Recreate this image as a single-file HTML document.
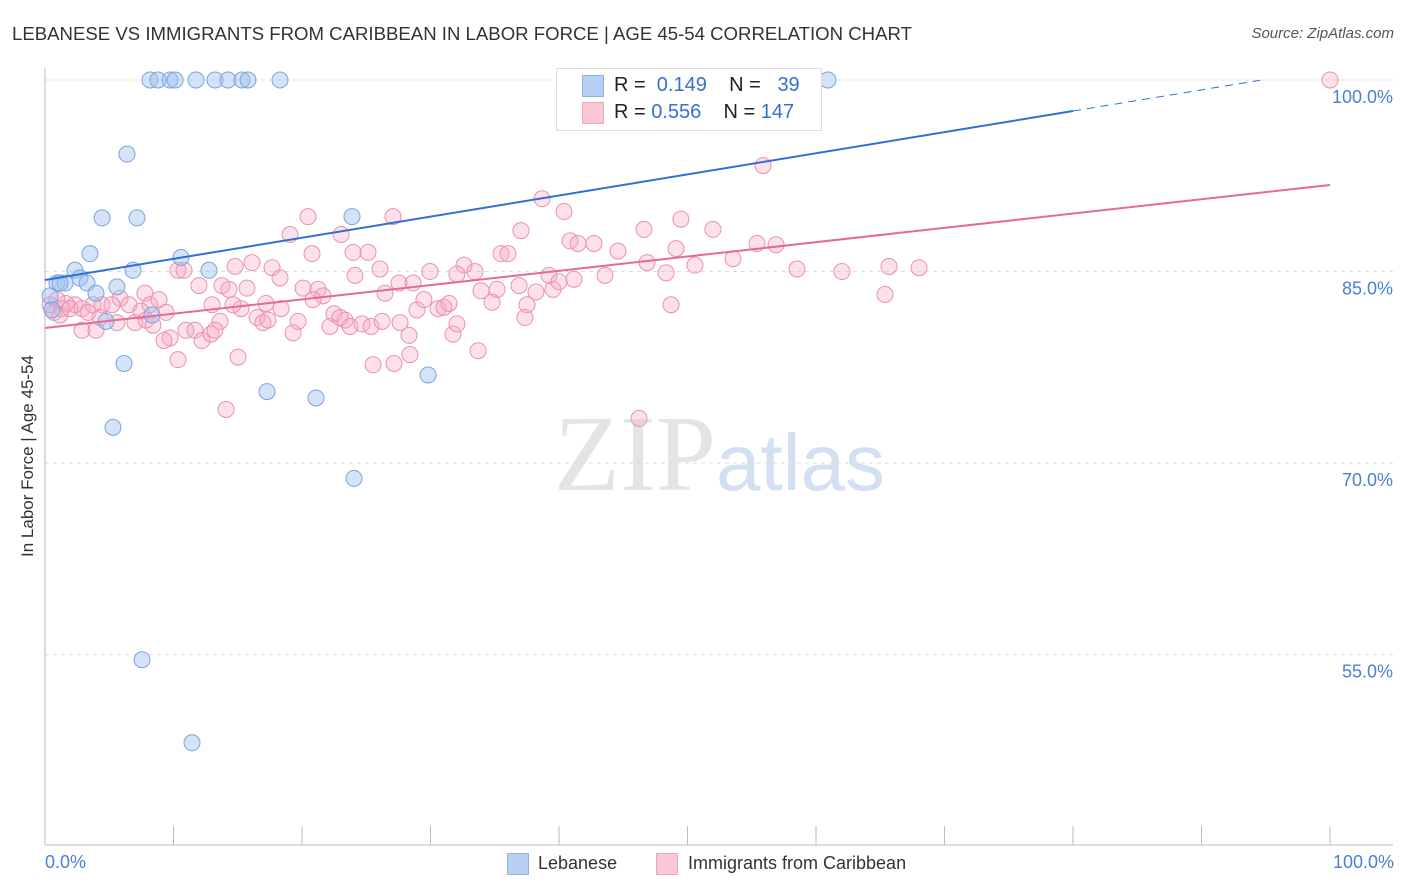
<!DOCTYPE html>
<html><head><meta charset="utf-8"><style>
body{margin:0;background:#fff;font-family:"Liberation Sans",sans-serif;}
#wrap{position:relative;width:1406px;height:892px;overflow:hidden;}
.t{position:absolute;white-space:nowrap;}
</style></head><body>
<div id="wrap">
<div class="t" style="left:12px;top:23px;font-size:18.6px;color:#333;">LEBANESE VS IMMIGRANTS FROM CARIBBEAN IN LABOR FORCE | AGE 45-54 CORRELATION CHART</div>
<div class="t" style="right:12px;top:25px;font-size:15px;color:#555;font-style:italic;">Source: ZipAtlas.com</div>
<svg id="svg" width="1406" height="892" style="position:absolute;left:0;top:0">
<text x="716" y="490" text-anchor="end" font-family="Liberation Serif" font-size="108" fill="#e4e4e4">ZIP</text>
<text x="716" y="490" font-family="Liberation Sans" font-size="80" fill="#d3e0f2">atlas</text>
</svg>
<div class="t" style="left:28px;top:456px;font-size:17px;color:#333;transform:translate(-50%,-50%) rotate(-90deg);">In Labor Force | Age 45-54</div>
<div style="position:absolute;left:556px;top:68px;width:264px;height:61px;border:1px solid #ddd;background:#fff;"></div>
<div style="position:absolute;left:582px;top:75px;width:20px;height:20px;background:#b8d0f4;border:1px solid #8fb2e6;"></div>
<div style="position:absolute;left:582px;top:102px;width:20px;height:20px;background:#f9c7d6;border:1px solid #eea4bc;"></div>
<div class="t" style="left:614px;top:74px;font-size:20px;color:#222;">R = &nbsp;<span style="color:#3a6fcf">0.149</span>&nbsp;&nbsp;&nbsp; N = &nbsp;&nbsp;<span style="color:#3a6fcf">39</span></div>
<div class="t" style="left:614px;top:101px;font-size:20px;color:#222;">R = <span style="color:#3a6fcf">0.556</span>&nbsp;&nbsp;&nbsp; N = <span style="color:#3a6fcf">147</span></div>
<div class="t" style="left:45px;top:852px;font-size:18px;color:#4a7fd4;">0.0%</div>
<div class="t" style="right:12px;top:852px;font-size:18px;color:#4a7fd4;">100.0%</div>
<div style="position:absolute;left:507px;top:853px;width:20px;height:20px;background:#b8d0f4;border:1px solid #8fb2e6;"></div>
<div class="t" style="left:538px;top:853px;font-size:18px;color:#333;">Lebanese</div>
<div style="position:absolute;left:656px;top:853px;width:20px;height:20px;background:#f9c7d6;border:1px solid #eea4bc;"></div>
<div class="t" style="left:688px;top:853px;font-size:18px;color:#333;">Immigrants from Caribbean</div>
</div>
<script>
const yTicks=[100,85,70,55];
const yTickLabels=["100.0%","85.0%","70.0%","55.0%"];
const xTicks=[0,10,20,30,40,50,60,70,80,90,100];
const blueX=[8.17,8.79,9.73,10.12,11.75,13.23,14.24,15.33,15.80,18.29,60.93,6.38,4.44,7.16,23.89,3.50,10.58,2.33,6.85,12.76,0.93,1.56,2.72,3.27,5.60,3.97,0.39,0.54,4.75,8.33,6.15,17.28,21.09,29.81,5.29,24.05,7.55,11.44,1.17];
const blueY=[100,100,100,100,100,100,100,100,100,100,100,94.2,89.2,89.2,89.3,86.4,86.1,85.1,85.1,85.1,84.1,84.1,84.5,84.1,83.8,83.3,83.1,82.0,81.1,81.6,77.8,75.6,75.1,76.9,72.8,68.8,54.6,48.1,84.1];
const pinkX=[100,55.88,38.68,40.39,20.47,27.08,49.49,37.04,19.07,23.04,46.61,51.98,40.86,41.48,42.72,23.97,25.14,20.78,35.49,36.03,55.41,56.89,49.11,44.59,53.54,46.85,32.61,10.35,10.82,14.79,16.11,17.67,26.07,29.96,32.06,33.46,39.22,41.17,43.58,48.33,50.58,58.52,62.02,65.68,68.02,24.12,27.55,28.64,11.98,13.77,18.29,20.08,21.25,21.63,26.46,33.93,35.18,36.89,38.21,39.53,40.00,14.32,15.72,7.78,5.84,3.74,2.33,1.63,0.93,0.39,0.70,1.32,2.88,4.44,5.21,6.54,8.17,8.87,9.42,13.00,15.25,16.50,17.20,18.37,19.69,20.86,22.18,22.49,23.35,23.74,24.67,25.37,26.23,27.63,28.95,29.49,30.58,31.05,31.44,34.79,37.51,37.35,48.72,65.37,2.88,3.97,5.60,7.00,7.86,10.97,11.67,9.73,12.22,12.92,13.62,9.26,10.35,15.02,16.96,19.30,25.53,27.16,28.40,31.75,33.70,28.33,14.09,46.23,1.17,1.95,3.35,4.28,7.47,8.40,13.23,14.63,17.35,22.96,32.06];
const pinkY=[100,93.3,90.7,89.7,89.3,89.3,89.1,88.2,87.9,87.9,88.3,88.3,87.4,87.2,87.2,86.5,86.5,86.4,86.4,86.4,87.2,87.1,86.8,86.6,86.0,85.7,85.5,85.1,85.1,85.4,85.7,85.3,85.2,85.0,84.8,85.0,84.7,84.4,84.7,84.9,85.5,85.2,85.0,85.4,85.3,84.7,84.1,84.1,83.9,83.9,84.5,83.7,83.6,83.1,83.3,83.5,83.6,83.9,83.4,83.6,84.2,83.6,83.7,83.3,82.9,82.4,82.4,82.5,82.8,82.4,81.8,82.1,82.1,82.4,82.4,82.4,82.4,82.8,81.8,82.4,82.1,81.4,82.5,82.1,81.1,82.8,80.7,81.7,81.2,80.7,80.9,80.7,81.1,81.0,82.0,82.8,82.1,82.2,82.5,82.6,82.4,81.4,82.4,83.2,80.4,80.4,81.0,81.0,81.2,80.4,80.4,79.8,79.6,80.1,81.1,79.6,78.1,78.3,81.0,80.2,77.7,77.8,78.5,80.1,78.8,80.0,74.2,73.5,81.6,82.1,81.8,81.4,81.9,80.8,80.4,82.4,81.2,81.4,80.9];
const blueTrend=[84.34,0.1654];
const pinkTrend=[80.58,0.112];
const NS="http://www.w3.org/2000/svg";
const svg=document.getElementById('svg');
const X=v=>45+v*12.85;
const Y=v=>80+(100-v)*12.77;
function mk(t,a){const e=document.createElementNS(NS,t);for(const k in a)e.setAttribute(k,a[k]);svg.appendChild(e);return e;}
yTicks.forEach((v,i)=>{
 const g=mk('line',{x1:45,x2:1393,y1:Y(v),y2:Y(v),stroke:'#ddd','stroke-dasharray':'4,4'});
 
 
 const t=mk('text',{x:1393,y:Y(v)+23,'text-anchor':'end','font-size':18,fill:'#4a7fd4','font-family':'Liberation Sans'});
 t.textContent=yTickLabels[i];
 
 
});
const ax=mk('line',{x1:45,x2:45,y1:68,y2:845,stroke:'#bbb'});


const bx=mk('line',{x1:45,x2:1393,y1:845,y2:845,stroke:'#bbb'});


xTicks.forEach(v=>{
 const l=mk('line',{x1:X(v),x2:X(v),y1:826,y2:845,stroke:'#bbb'});
 
 
});
pinkX.forEach((v,i)=>{
 const c=mk('circle',{cx:X(v),cy:Y(pinkY[i]),r:8,fill:'rgba(246,170,196,0.35)',stroke:'#eb90b0','stroke-width':1});
 
 
});
blueX.forEach((v,i)=>{
 const c=mk('circle',{cx:X(v),cy:Y(blueY[i]),r:8,fill:'rgba(160,194,240,0.45)',stroke:'#7aa4e0','stroke-width':1});
 
 
});
const pl=mk('line',{x1:X(0),y1:Y(pinkTrend[0]),x2:X(100),y2:Y(pinkTrend[0]+pinkTrend[1]*100),stroke:'#e56a95','stroke-width':2});


const bl=mk('line',{x1:X(0),y1:Y(blueTrend[0]),x2:X(80),y2:Y(blueTrend[0]+blueTrend[1]*80),stroke:'#2f6fd6','stroke-width':2});


const xEnd=(100-blueTrend[0])/blueTrend[1];
const bd=mk('line',{x1:X(80),y1:Y(blueTrend[0]+blueTrend[1]*80),x2:X(xEnd),y2:Y(100),stroke:'#2f6fd6','stroke-width':1,'stroke-dasharray':'8,6'});


</script>
</body></html>
